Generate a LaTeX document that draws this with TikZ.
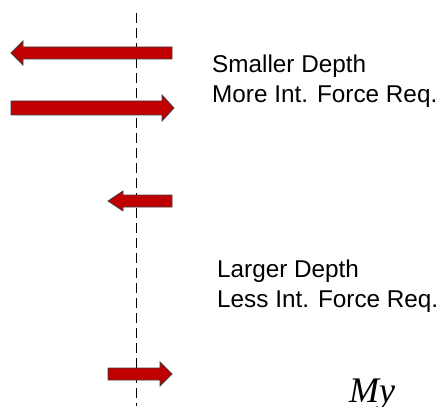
\documentclass[tikz,border=0pt]{standalone}
\usepackage{fontspec}
\setmainfont{Liberation Sans}
\newfontfamily\myfont{Liberation Serif}
\definecolor{forcered}{RGB}{192,0,0}
\begin{document}
\begin{tikzpicture}[x=1pt,y=-1pt,
  force/.style={fill=forcered,draw=black!75,line width=0.8pt,line join=miter},
  axis/.style={draw=black,line width=0.8pt,dash pattern=on 10pt off 5pt},
  lbl/.style={inner sep=0pt,align=left,anchor=north west,font=\fontsize{24.3}{29.5}\selectfont}]
\useasboundingbox (0,0) rectangle (438,406);
\draw[axis] (136,13) -- (136,406);
\draw[force] (172,47) -- (23,47) -- (23,41) -- (11,53) -- (23,65) -- (23,59) -- (172,59) -- cycle;
\draw[force] (11,101) -- (162,101) -- (162,95) -- (174,108) -- (162,121) -- (162,115) -- (11,115) -- cycle;
\draw[force] (172,195) -- (123,195) -- (123,191) -- (108,201) -- (123,211) -- (123,207) -- (172,207) -- cycle;
\draw[force] (108,368) -- (160,368) -- (160,362) -- (172,374) -- (160,386) -- (160,380) -- (108,380) -- cycle;
\node[lbl] (small) at (212,55) {Smaller Depth\\More Int. Force Req.};
\node[lbl] (large) at (217,260) {Larger Depth\\Less Int. Force Req.};
\node[inner sep=0pt,anchor=base west,font=\myfont\itshape\fontsize{36}{40}\selectfont] (my) at (349,402) {My};
\end{tikzpicture}
\end{document}
